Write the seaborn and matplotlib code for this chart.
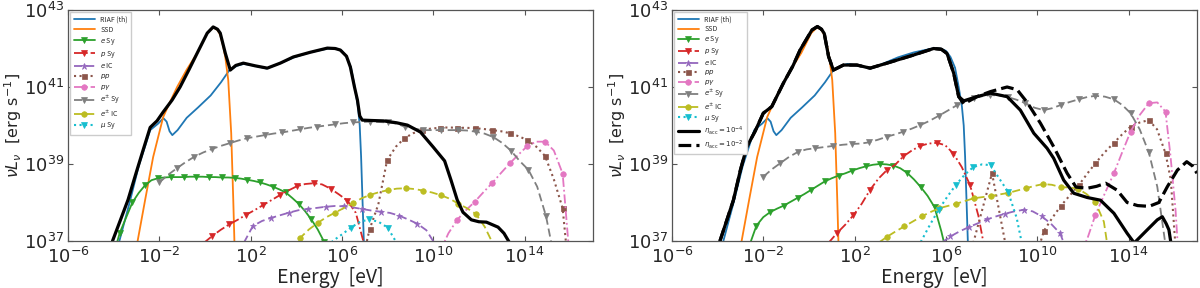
import numpy as np
import matplotlib
matplotlib.use("Agg")
import matplotlib.pyplot as plt
from matplotlib.ticker import FixedLocator, NullLocator, LogFormatterSciNotation
import seaborn as sns

# ---------------- data (log10 E [eV], log10 nuL_nu [erg/s]) ----------------
xticks = [1e-6, 1e-2, 1e2, 1e6, 1e10, 1e14]
yticks = [1e37, 1e39, 1e41, 1e43]

# thermal components (same in both panels)
riaf_logE = [-3.75, -3.3, -2.9, -2.6, -2.4, -2.05, -1.82, -1.68, -1.55, -1.43, -1.2, -0.8, -0.3, 0.25, 0.7,
             1.05, 1.4, 1.7, 2.2, 2.7, 3.3, 3.9, 4.6, 5.4, 5.75, 6.0, 6.2, 6.4, 6.56, 6.7, 6.78, 6.84, 6.9, 6.96]
riaf_logL = [37.0, 38.0, 38.95, 39.5, 39.88, 40.05, 40.19, 40.1, 39.85, 39.75, 39.88, 40.2, 40.47, 40.78, 41.12,
             41.42, 41.55, 41.6, 41.55, 41.48, 41.62, 41.77, 41.9, 42.0, 42.0, 41.94, 41.78, 41.5, 41.0, 40.5, 40.0, 39.2, 38.1, 37.0]
ssd_logE = [-2.95, -2.62, -2.27, -1.83, -1.5, -1.22, -0.8, -0.34, 0.1, 0.36, 0.55, 0.67, 0.8, 0.89, 1.02, 1.15, 1.24, 1.29]
ssd_logL = [37.0, 38.07, 39.18, 40.22, 40.65, 41.0, 41.45, 41.88, 42.40, 42.55, 42.48, 42.35, 42.05, 41.78, 41.18, 39.8, 38.07, 37.0]

# ---- left panel ----
tot_a_logE = [-4.05, -3.7, -3.37, -3.0, -2.71, -2.4, -2.1, -1.83, -1.44, -1.09, -0.7, -0.34, 0.1, 0.36, 0.55, 0.67,
              0.89, 1.11, 1.35, 1.68, 2.2, 2.73, 3.3, 3.87, 4.6, 5.36, 5.7, 5.93, 6.2, 6.37, 6.55, 6.68, 6.78, 6.89,
              7.3, 7.82, 8.4, 8.87, 9.44, 10.0, 10.5, 10.78, 11.05, 11.3, 11.67, 12.0, 12.33, 12.84, 13.1, 13.4]
tot_a_logL = [37.0, 37.55, 38.07, 38.8, 39.36, 39.95, 40.12, 40.35, 40.66, 41.0, 41.45, 41.88, 42.40, 42.56, 42.50, 42.40,
              41.88, 41.44, 41.56, 41.62, 41.55, 41.49, 41.62, 41.78, 41.90, 42.01, 42.0, 41.96, 41.8, 41.52, 41.0, 40.66, 40.25, 40.14,
              40.13, 40.12, 40.07, 40.01, 39.83, 39.44, 39.08, 38.58, 38.07, 37.75, 37.55, 37.5, 37.49, 37.36, 37.2, 36.9]

esy_a_logE = [-4.02, -3.74, -3.46, -3.18, -2.90, -2.62, -2.34, -2.06, -1.78, -1.50, -1.22, -0.94, -0.66, -0.38, -0.10,
              0.18, 0.46, 0.74, 1.02, 1.30, 1.58, 1.86, 2.14, 2.42, 2.70, 2.98, 3.26, 3.54, 3.82, 4.10, 4.38, 4.66, 4.94, 5.22, 5.50]
esy_a_logL = [36.6, 37.2, 37.6, 38.0, 38.25, 38.45, 38.58, 38.63, 38.65, 38.66, 38.66, 38.66, 38.67, 38.67, 38.67,
              38.66, 38.66, 38.65, 38.65, 38.64, 38.62, 38.59, 38.56, 38.52, 38.47, 38.41, 38.34, 38.26, 38.12, 37.97, 37.78, 37.56, 37.30, 36.98, 36.5]

psy_a_logE = [-0.05, 0.32, 0.69, 1.06, 1.43, 1.80, 2.17, 2.54, 2.91, 3.28, 3.65, 4.02, 4.39, 4.76, 5.13, 5.50, 5.87, 6.24, 6.61, 6.98]
psy_a_logL = [36.95, 37.13, 37.29, 37.43, 37.55, 37.68, 37.80, 37.93, 38.06, 38.19, 38.31, 38.42, 38.48, 38.50, 38.47, 38.36, 38.21, 38.05, 37.73, 36.9]

eic_a_logE = [1.7, 2.1, 2.5, 2.9, 3.3, 3.7, 4.1, 4.5, 4.9, 5.3, 5.7, 6.1, 6.5, 6.9, 7.3, 7.7, 8.1, 8.5, 8.9, 9.3, 9.7, 10.1]
eic_a_logL = [36.95, 37.39, 37.52, 37.60, 37.67, 37.74, 37.80, 37.83, 37.86, 37.89, 37.91, 37.90, 37.87, 37.83, 37.79, 37.76, 37.73, 37.66, 37.56, 37.45, 37.28, 36.9]

pp_a_logE = [6.825, 7.21, 7.595, 7.98, 8.365, 8.74, 9.125, 9.51, 9.895, 10.28, 10.665, 11.05, 11.435, 11.82, 12.205,
             12.59, 12.975, 13.36, 13.745, 14.13, 14.515, 14.90, 15.285, 15.67, 16.055]
pp_a_logL = [36.3, 37.30, 37.95, 39.10, 39.45, 39.67, 39.80, 39.88, 39.92, 39.94, 39.95, 39.94, 39.94, 39.93, 39.91,
             39.88, 39.85, 39.80, 39.72, 39.62, 39.45, 39.21, 38.60, 37.85, 35.5]

pg_a_logE = [10.28, 10.665, 11.05, 11.435, 11.82, 12.205, 12.59, 12.975, 13.36, 13.745, 14.13, 14.515, 14.90, 15.285, 15.67, 16.055]
pg_a_logL = [36.7, 37.2, 37.55, 37.80, 38.02, 38.27, 38.51, 38.77, 39.02, 39.25, 39.47, 39.58, 39.58, 39.35, 38.75, 36.0]

pmsy_a_logE = [-2.0, -1.615, -1.23, -0.845, -0.46, -0.075, 0.31, 0.695, 1.08, 1.465, 1.85, 2.235, 2.62, 3.005, 3.39, 3.775,
               4.16, 4.545, 4.93, 5.315, 5.70, 6.085, 6.47, 6.855, 7.24, 7.625, 8.01, 8.395, 8.78, 9.165, 9.55, 9.935,
               10.32, 10.705, 11.09, 11.475, 11.86, 12.245, 12.63, 13.015, 13.40, 13.785, 14.17, 14.555, 14.94, 15.325]
pmsy_a_logL = [38.52, 38.72, 38.89, 39.05, 39.19, 39.30, 39.39, 39.47, 39.54, 39.61, 39.67, 39.71, 39.75, 39.79, 39.82, 39.86,
               39.90, 39.94, 39.97, 40.00, 40.03, 40.06, 40.08, 40.09, 40.10, 40.09, 40.08, 40.05, 39.96, 39.92, 39.88, 39.88,
               39.88, 39.88, 39.88, 39.87, 39.84, 39.79, 39.70, 39.55, 39.35, 39.08, 38.85, 38.41, 37.65, 36.5]

pmic_a_logE = [3.785, 4.17, 4.555, 4.94, 5.325, 5.71, 6.095, 6.48, 6.865, 7.25, 7.635, 8.02, 8.405, 8.79, 9.175, 9.56,
               9.945, 10.33, 10.715, 11.10, 11.485, 11.87, 12.255, 12.64]
pmic_a_logL = [36.8, 37.08, 37.30, 37.47, 37.62, 37.74, 37.86, 37.98, 38.11, 38.20, 38.27, 38.32, 38.36, 38.37, 38.35, 38.31,
               38.26, 38.19, 38.10, 37.97, 37.85, 37.70, 37.37, 36.9]

mu_a_logE = [5.4, 5.6, 6.0, 6.4, 6.8, 7.2, 7.6, 8.0, 8.4]
mu_a_logL = [36.85, 37.0, 37.17, 37.35, 37.50, 37.56, 37.50, 37.35, 36.95]

# ---- right panel ----
tot_b_logE = [-3.9, -3.31, -3.0, -2.72, -2.36, -2.0, -1.63, -1.12, -0.7, -0.39, 0.13, 0.37, 0.55, 0.67, 0.86, 1.07, 1.51,
              2.1, 2.68, 3.42, 4.58, 5.46, 5.8, 6.05, 6.34, 6.56, 6.78, 7.36, 7.95, 8.68, 9.26, 9.85, 10.43, 10.72, 11.16,
              11.6, 12.19, 12.77, 13.36, 13.94, 14.25, 14.82, 15.26, 15.48, 15.65, 15.77, 15.87]
tot_b_logL = [37.0, 38.06, 38.85, 39.45, 39.85, 40.32, 40.49, 41.10, 41.55, 41.96, 42.48, 42.57, 42.50, 42.39, 41.79, 41.44, 41.57,
              41.57, 41.49, 41.62, 41.83, 42.0, 41.98, 41.87, 41.36, 40.75, 40.64, 40.75, 40.84, 40.75, 40.40, 39.80, 39.41, 39.15, 38.58,
              38.24, 38.13, 38.06, 37.72, 37.2, 36.95, 37.29, 37.55, 37.63, 37.45, 37.29, 36.9]
tot2_b_logE = [-3.9, -3.31, -3.0, -2.72, -2.36, -2.0, -1.63, -1.12, -0.7, -0.39, 0.13, 0.37, 0.55, 0.67, 0.86, 1.07, 1.51,
               2.1, 2.68, 3.42, 4.58, 5.46, 5.8, 6.05, 6.34, 6.56, 6.78, 7.36, 7.95, 8.68, 9.12, 9.56, 10.14, 10.72, 11.31,
               11.7, 12.19, 12.6, 13.0, 13.5, 13.94, 14.4, 14.9, 15.33, 15.7, 16.14, 16.55, 16.8, 17.0]
tot2_b_logL = [37.0, 38.06, 38.85, 39.45, 39.85, 40.32, 40.49, 41.10, 41.55, 41.96, 42.48, 42.57, 42.50, 42.39, 41.79, 41.44, 41.57,
               41.57, 41.49, 41.62, 41.83, 42.0, 41.98, 41.87, 41.36, 40.75, 40.56, 40.75, 40.88, 41.0, 40.93, 40.6, 40.06, 39.45, 38.76,
               38.4, 38.37, 38.42, 38.5, 38.32, 38.0, 37.92, 37.9, 38.0, 38.41, 38.84, 39.06, 38.95, 38.76]

esy_b_logE = [-2.6, -2.3, -2.0, -1.7, -1.4, -1.1, -0.8, -0.5, -0.2, 0.1, 0.4, 0.7, 1.0, 1.3, 1.6, 1.9, 2.2, 2.5, 2.8, 3.1,
              3.4, 3.7, 4.0, 4.3, 4.6, 4.9, 5.2, 5.5, 5.8, 6.1]
esy_b_logL = [36.9, 37.40, 37.62, 37.75, 37.84, 37.92, 38.02, 38.12, 38.22, 38.33, 38.44, 38.55, 38.63, 38.70, 38.76, 38.83,
              38.89, 38.94, 38.98, 39.0, 38.99, 38.96, 38.89, 38.77, 38.60, 38.40, 38.17, 37.88, 37.25, 36.5]

psy_b_logE = [0.855, 1.22, 1.585, 1.95, 2.315, 2.68, 3.045, 3.41, 3.775, 4.14, 4.505, 4.87, 5.235, 5.60, 5.965, 6.33, 6.695, 7.06, 7.425, 7.79]
psy_b_logL = [36.95, 37.2, 37.42, 37.67, 37.97, 38.33, 38.62, 38.84, 38.98, 39.2, 39.35, 39.47, 39.53, 39.55, 39.49, 39.27, 38.92, 38.45, 37.65, 36.5]

eic_b_logE = [5.8, 6.2, 6.6, 7.0, 7.4, 7.8, 8.2, 8.6, 9.0, 9.4, 9.8, 10.2, 10.6, 11.0, 11.4]
eic_b_logL = [36.95, 37.12, 37.25, 37.36, 37.46, 37.56, 37.64, 37.71, 37.77, 37.81, 37.77, 37.64, 37.45, 37.2, 36.6]

pp_b1_logE = [7.2, 8.02, 8.6]
pp_b1_logL = [36.95, 38.76, 36.95]
pp_b2_logE = [9.95, 10.3, 10.66, 11.02, 11.42, 11.82, 12.18, 12.55, 12.95, 13.36, 13.72, 14.09, 14.5, 14.89, 15.25, 15.62, 15.85, 16.1]
pp_b2_logL = [36.6, 37.27, 37.6, 37.90, 38.18, 38.45, 38.74, 39.02, 39.3, 39.55, 39.77, 39.97, 40.08, 40.14, 39.9, 39.28, 38.6, 36.5]

pg_b_logE = [11.9, 12.19, 12.55, 12.95, 13.36, 13.72, 14.09, 14.5, 14.89, 15.26, 15.62, 15.84, 16.06, 16.2]
pg_b_logL = [36.7, 37.05, 37.68, 38.22, 38.76, 39.3, 39.84, 40.28, 40.58, 40.60, 40.36, 39.2, 37.8, 36.5]

pmsy_b_logE = [-2.0, -1.63, -1.26, -0.86, -0.46, -0.1, 0.27, 0.67, 1.07, 1.48, 1.88, 2.25, 2.61, 3.02, 3.42, 3.78, 4.14, 4.51,
               4.88, 5.28, 5.68, 6.09, 6.49, 6.86, 7.22, 7.59, 7.95, 8.33, 8.70, 9.09, 9.48, 9.89, 10.29, 10.66, 11.02, 11.42,
               11.82, 12.19, 12.55, 12.96, 13.36, 13.73, 14.09, 14.49, 14.89, 15.26, 15.62]
pmsy_b_logL = [38.67, 38.86, 39.02, 39.19, 39.32, 39.38, 39.41, 39.44, 39.47, 39.50, 39.52, 39.53, 39.56, 39.63, 39.71, 39.77,
               39.84, 39.92, 40.01, 40.12, 40.25, 40.39, 40.53, 40.63, 40.71, 40.76, 40.79, 40.78, 40.74, 40.67, 40.58, 40.46,
               40.40, 40.45, 40.53, 40.61, 40.68, 40.74, 40.77, 40.75, 40.68, 40.53, 40.32, 39.9, 39.3, 38.41, 36.9]

pmic_b_logE = [3.04, 3.42, 3.80, 4.18, 4.56, 4.94, 5.32, 5.70, 6.08, 6.46, 6.84, 7.22, 7.60, 7.98, 8.36, 8.74, 9.12, 9.50,
               9.88, 10.26, 10.64, 11.02, 11.40, 11.78, 12.16, 12.54, 12.92, 13.30]
pmic_b_logL = [36.95, 37.11, 37.25, 37.38, 37.51, 37.64, 37.75, 37.85, 37.91, 37.97, 38.04, 38.11, 38.14, 38.17, 38.21, 38.25,
               38.31, 38.37, 38.43, 38.48, 38.46, 38.40, 38.39, 38.36, 38.22, 38.02, 37.5, 36.0]

mu_b_logE = [4.54, 4.92, 5.30, 5.68, 6.06, 6.44, 6.82, 7.20, 7.58, 7.96, 8.34, 8.72, 9.10, 9.48]
mu_b_logL = [36.6, 37.0, 37.42, 37.81, 38.15, 38.46, 38.72, 38.92, 38.99, 38.97, 38.62, 38.28, 37.6, 36.5]

labels = ["RIAF (th)", "SSD", r"$e$ Sy", r"$p$ Sy", r"$e$ IC", r"$pp$", r"$p\gamma$",
          r"$e^{\pm}$ Sy", r"$e^{\pm}$ IC", r"$\mu$ Sy"]
eta_labels = [r"$\eta_{\rm acc}=10^{-4}$", r"$\eta_{\rm acc}=10^{-2}$"]

# ---------------- styling ----------------
sns.set_theme(style="ticks")
plt.rcParams["font.family"] = ["DejaVu Sans"]
plt.rcParams["xtick.direction"] = "in"
plt.rcParams["ytick.direction"] = "in"
plt.rcParams["xtick.top"] = True
plt.rcParams["ytick.right"] = True

C = dict(blue="#1f77b4", orange="#ff7f0e", green="#2ca02c", red="#d62728", purple="#9467bd",
         brown="#8c564b", pink="#e377c2", gray="#7f7f7f", olive="#bcbd22", cyan="#17becf")

fig = plt.figure(figsize=(12, 2.88), dpi=100)
axA = fig.add_axes([68 / 1200, 1 - 241 / 288, 525 / 1200, 231 / 288])
axB = fig.add_axes([672 / 1200, 1 - 241 / 288, 525 / 1200, 231 / 288])


def draw(ax, logE, logL, color, ls, marker=None, mevery=None, lw=1.3, ms=4.0, label=None, dashes=None):
    E = 10.0 ** np.asarray(logE, dtype=float)
    L = 10.0 ** np.asarray(logL, dtype=float)
    kw = dict(color=color, linestyle=ls, lw=lw, estimator=None, sort=False, ax=ax)
    if marker is not None:
        kw.update(marker=marker, markevery=mevery, ms=ms, mec=color, mfc=color, mew=0.5)
    sns.lineplot(x=E, y=L, **kw)
    line = ax.get_lines()[-1]
    if dashes is not None:
        line.set_dashes(dashes)
    line.set_label(label if label is not None else "_nolegend_")
    return line


def setup(ax):
    ax.set_xscale("log")
    ax.set_yscale("log")
    ax.set_xlim(1e-6, 1e17)
    ax.set_ylim(1e37, 1e43)
    ax.xaxis.set_major_locator(FixedLocator(xticks))
    ax.yaxis.set_major_locator(FixedLocator(yticks))
    ax.xaxis.set_minor_locator(NullLocator())
    ax.yaxis.set_minor_locator(NullLocator())
    ax.xaxis.set_major_formatter(LogFormatterSciNotation())
    ax.yaxis.set_major_formatter(LogFormatterSciNotation())
    ax.tick_params(which="major", direction="in", length=3.5, width=0.8, labelsize=13,
                   top=True, right=True, color="#555555")
    ax.tick_params(axis="x", pad=4)
    ax.tick_params(axis="y", pad=3)
    for s in ax.spines.values():
        s.set_color("#555555")
        s.set_linewidth(0.9)
    ax.set_xlabel("Energy  [eV]", fontsize=14, family=["Noto Sans CJK JP", "DejaVu Sans"], labelpad=0)
    ax.set_ylabel(r"$\nu L_\nu$  [erg s$^{-1}$]", fontsize=11.5)
    ax.yaxis.set_label_coords(-0.083, 0.5)


for ax in (axA, axB):
    setup(ax)

DASH = (4.5, 2.2)
DASHDOT = (5.0, 1.6, 1.0, 1.6)


def panel(ax, d, black):
    h = []
    h.append(draw(ax, riaf_logE, riaf_logL, C["blue"], "-", lw=1.3, label=labels[0]))
    h.append(draw(ax, ssd_logE, ssd_logL, C["orange"], "-", lw=1.3, label=labels[1]))
    h.append(draw(ax, *d["esy"], C["green"], "-", "v", d["esy_me"], label=labels[2]))
    h.append(draw(ax, *d["psy"], C["red"], "-.", "v", (1, 2), label=labels[3], dashes=DASHDOT))
    h.append(draw(ax, *d["eic"], C["purple"], "--", "*", (1, 2), label=labels[4], dashes=DASH, ms=4.6))
    for k, part in enumerate(d["pp"]):
        ln = draw(ax, *part[:2], C["brown"], ":", "s", part[2], lw=1.5, ms=3.6,
                  label=labels[5] if k == 0 else None)
        if k == 0:
            h.append(ln)
    h.append(draw(ax, *d["pg"], C["pink"], "-.", "o", d["pg_me"], label=labels[6], dashes=DASHDOT))
    h.append(draw(ax, *d["pmsy"], C["gray"], "--", "v", (0, 2), label=labels[7], dashes=DASH))
    h.append(draw(ax, *d["pmic"], C["olive"], "--", "o", (1, 2), label=labels[8], dashes=DASH))
    h.append(draw(ax, *d["mu"], C["cyan"], ":", "v", d["mu_me"], lw=1.5, label=labels[9]))
    for (lE, lL, lab, dsh) in black:
        ln = draw(ax, lE, lL, "black", "-" if dsh is None else "--", lw=2.3, label=lab, dashes=dsh)
        if lab is not None:
            h.append(ln)
    return h


dA = dict(esy=(esy_a_logE, esy_a_logL), esy_me=(1, 2), psy=(psy_a_logE, psy_a_logL),
          eic=(eic_a_logE, eic_a_logL), pp=[(pp_a_logE, pp_a_logL, (1, 2))],
          pg=(pg_a_logE, pg_a_logL), pg_me=(2, 2), pmsy=(pmsy_a_logE, pmsy_a_logL),
          pmic=(pmic_a_logE, pmic_a_logL), mu=(mu_a_logE, mu_a_logL), mu_me=(3, 2))
hA = panel(axA, dA, [(tot_a_logE, tot_a_logL, None, None)])

dB = dict(esy=(esy_b_logE, esy_b_logL), esy_me=(1, 2), psy=(psy_b_logE, psy_b_logL),
          eic=(eic_b_logE, eic_b_logL),
          pp=[(pp_b1_logE, pp_b1_logL, [1]), (pp_b2_logE, pp_b2_logL, (1, 2))],
          pg=(pg_b_logE, pg_b_logL), pg_me=[2, 4, 6, 8, 10], pmsy=(pmsy_b_logE, pmsy_b_logL),
          pmic=(pmic_b_logE, pmic_b_logL), mu=(mu_b_logE, mu_b_logL), mu_me=(3, 2))
hB = panel(axB, dB, [(tot_b_logE, tot_b_logL, eta_labels[0], None),
                     (tot2_b_logE, tot2_b_logL, eta_labels[1], (4.0, 1.6))])

legprop = dict(family=["Noto Sans CJK JP", "DejaVu Sans"], size=5)
axA.legend(handles=hA, loc="upper left", prop=legprop, frameon=True, fancybox=False,
           edgecolor="#cccccc", framealpha=1, handlelength=3.0, labelspacing=0.27,
           borderaxespad=0.35, borderpad=0.5, handletextpad=0.8)
axB.legend(handles=hB, loc="upper left", prop=legprop, frameon=True, fancybox=False,
           edgecolor="#cccccc", framealpha=1, handlelength=3.0, labelspacing=0.15,
           borderaxespad=0.35, borderpad=0.5, handletextpad=0.8)

fig.savefig("out.png", dpi=100)
